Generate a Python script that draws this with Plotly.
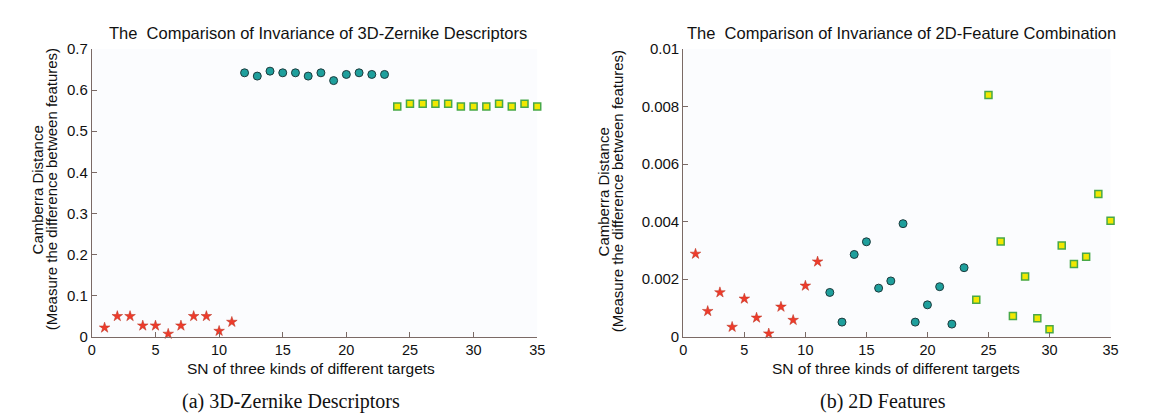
import plotly.graph_objects as go

W, H = 1164, 419

# ---------- data ----------
sn_a = list(range(1, 12))
sn_b = list(range(12, 24))
sn_c = list(range(24, 36))

zern_a = [0.022, 0.050, 0.050, 0.027, 0.027, 0.007, 0.027, 0.050, 0.050, 0.014, 0.036]
zern_b = [0.642, 0.634, 0.646, 0.642, 0.642, 0.634, 0.642, 0.623, 0.638, 0.642, 0.638, 0.638]
zern_c = [0.560, 0.567, 0.567, 0.567, 0.567, 0.560, 0.560, 0.560, 0.567, 0.560, 0.567, 0.560]

feat_a = [0.00288, 0.00089, 0.00154, 0.00034, 0.00132, 0.00066, 0.00011, 0.00104, 0.00058, 0.00177, 0.00261]
feat_b = [0.00154, 0.00051, 0.00286, 0.00330, 0.00169, 0.00194, 0.00393, 0.00051, 0.00111, 0.00174, 0.00044, 0.00240]
feat_c = [0.00129, 0.00840, 0.00331, 0.00072, 0.00209, 0.00064, 0.00026, 0.00317, 0.00253, 0.00278, 0.00496, 0.00403]

x_ticks = [0, 5, 10, 15, 20, 25, 30, 35]
y_ticks_a = [0, 0.1, 0.2, 0.3, 0.4, 0.5, 0.6, 0.7]
y_ticks_a_txt = ["0", "0.1", "0.2", "0.3", "0.4", "0.5", "0.6", "0.7"]
y_ticks_b = [0, 0.002, 0.004, 0.006, 0.008, 0.01]
y_ticks_b_txt = ["0", "0.002", "0.004", "0.006", "0.008", "0.01"]

title_a = "The  Comparison of Invariance of 3D-Zernike Descriptors"
title_b = "The  Comparison of Invariance of 2D-Feature Combination"
ytitle_1 = "Camberra Distance"
ytitle_2 = "(Measure the difference between features)"
xtitle = "SN of three kinds of different targets"
cap_a = "(a) 3D-Zernike Descriptors"
cap_b = "(b) 2D Features"

# ---------- styles ----------
STAR = dict(symbol="star", size=8, color="#ee3b2b", line=dict(color="#b8301f", width=0.5))
CIRC = dict(symbol="circle", size=8, color="#1e9f9c", line=dict(color="#1d3b3d", width=1))
SQR = dict(symbol="square", size=7, color="#f2e800", line=dict(color="#48a848", width=1.5))

AXC = "#7a6a66"
FONT = "Liberation Sans, Arial, sans-serif"
SERIF = "Liberation Serif, Times New Roman, serif"

fig = go.Figure()

def add(xs, ys, mk, xa, ya):
    fig.add_trace(go.Scatter(x=xs, y=ys, mode="markers", marker=mk, xaxis=xa, yaxis=ya,
                             cliponaxis=False, showlegend=False))

add(sn_a, zern_a, STAR, "x", "y")
add(sn_b, zern_b, CIRC, "x", "y")
add(sn_c, zern_c, SQR, "x", "y")
add(sn_a, feat_a, STAR, "x2", "y2")
add(sn_b, feat_b, CIRC, "x2", "y2")
add(sn_c, feat_c, SQR, "x2", "y2")

def px(v):
    return v / W

def py(v):
    return 1 - v / H

dom_y = [py(333.3), py(33.3)]
xax = dict(range=[0, 35], tickvals=x_ticks, ticks="inside", ticklen=5, tickcolor=AXC,
           showline=True, linecolor=AXC, linewidth=1.2, showgrid=False, zeroline=False,
           tickfont=dict(family=FONT, size=14.5, color="#111"), fixedrange=True)
yax = dict(ticks="inside", ticklen=5, tickcolor=AXC, showline=True, linecolor=AXC, linewidth=1.2,
           showgrid=False, zeroline=False, tickfont=dict(family=FONT, size=15, color="#111"))

fig.update_layout(
    width=W, height=H, margin=dict(l=0, r=0, t=0, b=0),
    paper_bgcolor="white", plot_bgcolor="#fbfcfe",
    xaxis=dict(domain=[px(80.7), px(530.7)], anchor="y", **xax),
    yaxis=dict(domain=dom_y, anchor="x", range=[0, 0.7], tickvals=y_ticks_a,
               ticktext=y_ticks_a_txt, **yax),
    xaxis2=dict(domain=[px(678.3), px(1110)], anchor="y2", **xax),
    yaxis2=dict(domain=dom_y, anchor="x2", range=[0, 0.01], tickvals=y_ticks_b,
                ticktext=y_ticks_b_txt, **yax),
)

ann = []
def text(t, x, y, size, xanchor="center", angle=0, family=FONT):
    ann.append(dict(text=t, x=px(x), y=py(y), xref="paper", yref="paper", showarrow=False,
                    xanchor=xanchor, yanchor="middle", textangle=angle,
                    font=dict(family=family, size=size, color="#111")))

text(title_a, 96, 17, 16.5, xanchor="left")
text(title_b, 680, 17, 16.5, xanchor="left")
text(ytitle_1, 26, 180, 15, angle=-90)
text(ytitle_2, 40, 180, 15, angle=-90)
text(ytitle_1, 598, 182, 15, angle=-90)
text(ytitle_2, 612, 182, 15, angle=-90)
text(xtitle, 302, 366, 15.5)
text(xtitle, 893, 366, 15.5)
text(cap_a, 282, 401, 20, family=SERIF)
text(cap_b, 880, 401, 20, family=SERIF)
fig.update_layout(annotations=ann)

fig.write_html("out.html")
